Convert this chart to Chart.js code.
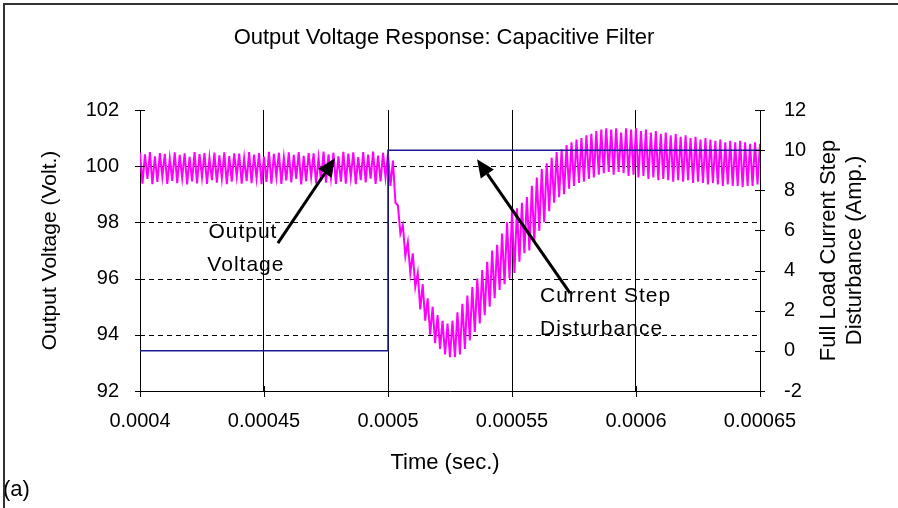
<!DOCTYPE html>
<html>
<head>
<meta charset="utf-8">
<title>Output Voltage Response: Capacitive Filter</title>
<script src="https://cdn.jsdelivr.net/npm/chart.js@4.4.0/dist/chart.umd.min.js"></script>
<style>
  html, body { margin: 0; padding: 0; background: #fff; }
  canvas { display: block; }
</style>
</head>
<body>
<canvas id="grafico" width="898" height="508"></canvas>
<script>
// sampled output voltage, one value every microsecond from 0.0004 s
var sampleStart = 0.0004;
var sampleStep = 0.000001;
var outputVoltage = [
    100.48, 99.38, 100.42, 99.55, 100.50, 99.36, 100.35, 99.44, 100.47, 99.62,
    100.44, 99.37, 100.28, 99.48, 100.49, 99.40, 100.40, 99.58, 100.46, 99.35,
    100.33, 99.46, 100.50, 99.39, 100.43, 99.60, 100.47, 99.37, 100.30, 99.50,
    100.48, 99.41, 100.39, 99.56, 100.49, 99.36, 100.36, 99.45, 100.46, 99.63,
    100.45, 99.38, 100.29, 99.47, 100.50, 99.40, 100.41, 99.57, 100.47, 99.36,
    100.34, 99.44, 100.51, 99.38, 100.44, 99.61, 100.48, 99.37, 100.31, 99.49,
    100.49, 99.42, 100.40, 99.55, 100.50, 99.35, 100.37, 99.46, 100.47, 99.62,
    100.46, 99.39, 100.30, 99.48, 100.52, 99.41, 100.42, 99.58, 100.48, 99.37,
    100.35, 99.45, 100.51, 99.38, 100.45, 99.60, 100.49, 99.36, 100.32, 99.50,
    100.50, 99.42, 100.41, 99.56, 100.52, 99.37, 100.38, 99.46, 100.48, 99.60,
    100.45, 99.30, 100.20, 98.70, 98.60, 97.60, 97.90, 96.80, 97.30, 96.20,
    96.90, 95.70, 96.20, 94.90, 95.80, 94.50, 95.30, 94.00, 95.00, 93.70,
    94.70, 93.50, 94.50, 93.30, 94.40, 93.20, 94.50, 93.20, 94.80, 93.30,
    95.10, 93.50, 95.40, 93.80, 95.70, 94.10, 96.00, 94.40, 96.30, 94.70,
    96.60, 95.00, 97.00, 95.30, 97.20, 95.60, 97.60, 95.80, 98.00, 96.00,
    98.40, 96.20, 98.50, 96.60, 98.70, 96.90, 98.90, 97.00, 99.30, 97.30,
    99.60, 97.70, 99.90, 98.00, 100.10, 98.40, 100.30, 98.70, 100.50, 98.90,
    100.60, 99.00, 100.75, 99.20, 100.85, 99.30, 100.95, 99.40, 101.00, 99.45,
    101.10, 99.55, 101.15, 99.60, 101.25, 99.70, 101.30, 99.75, 101.35, 99.80,
    101.30, 99.70, 101.35, 99.80, 101.20, 99.75, 101.35, 99.65, 101.30, 99.70,
    101.35, 99.60, 101.25, 99.65, 101.30, 99.55, 101.20, 99.60, 101.25, 99.50,
    101.15, 99.55, 101.20, 99.50, 101.10, 99.45, 101.15, 99.50, 101.05, 99.45,
    101.10, 99.50, 101.00, 99.40, 101.05, 99.45, 100.95, 99.40, 101.00, 99.35,
    100.95, 99.40, 100.90, 99.35, 100.95, 99.30, 100.85, 99.35, 100.90, 99.30,
    100.85, 99.30, 100.90, 99.25, 100.85, 99.30, 100.80, 99.30, 100.85, 99.35,
    100.80
];

// load current step (right axis)
var stepTime = [0.0004, 0.0005, 0.0005, 0.00065];
var stepCurrent = [0, 0, 10, 10];

// axis ticks
var timeTicks = [0.0004, 0.00045, 0.0005, 0.00055, 0.0006, 0.00065];
var timeTickLabels = ['0.0004', '0.00045', '0.0005', '0.00055', '0.0006', '0.00065'];
var voltTicks = [92, 94, 96, 98, 100, 102];
var currentTicks = [-2, 0, 2, 4, 6, 8, 10, 12];
var dashedVolts = [94, 96, 98, 100];

// text labels and arrows, in data units (time, volts)
var notes = [
    { text: 'Output', t: 0.0004415, v: 97.65, align: 'center' },
    { text: 'Voltage', t: 0.0004427, v: 96.48, align: 'center' },
    { text: 'Current Step', t: 0.0005613, v: 95.37, align: 'left' },
    { text: 'Disturbance', t: 0.0005613, v: 94.20, align: 'left' }
];
var arrows = [
    { from: [0.0004556, 97.26], to: [0.0004786, 100.28] },
    { from: [0.0005734, 95.48], to: [0.0005359, 100.25] }
];

var FONT = '"Liberation Sans", Arial, sans-serif';

var voltPoints = outputVoltage.map(function (v, i) {
    return { x: sampleStart + i * sampleStep, y: v };
});
var stepPoints = stepTime.map(function (t, i) {
    return { x: t, y: stepCurrent[i] };
});

function arrow(ctx, x1, y1, x2, y2) {
    var ang = Math.atan2(y2 - y1, x2 - x1);
    var len = 18, half = 8;
    var bx = x2 - len * Math.cos(ang), by = y2 - len * Math.sin(ang);
    ctx.beginPath();
    ctx.moveTo(x1, y1);
    ctx.lineTo(bx, by);
    ctx.stroke();
    ctx.beginPath();
    ctx.moveTo(x2, y2);
    ctx.lineTo(bx + half * Math.sin(ang), by - half * Math.cos(ang));
    ctx.lineTo(bx - half * Math.sin(ang), by + half * Math.cos(ang));
    ctx.closePath();
    ctx.fill();
}

var decor = {
    id: 'decor',
    beforeDatasetsDraw: function (chart) {
        var ctx = chart.ctx, a = chart.chartArea, y = chart.scales.y;
        ctx.save();
        ctx.strokeStyle = '#000';
        ctx.lineWidth = 1;
        ctx.setLineDash([5, 4]);
        dashedVolts.forEach(function (v) {
            var py = Math.round(y.getPixelForValue(v)) + 0.5;
            ctx.beginPath();
            ctx.moveTo(a.left, py);
            ctx.lineTo(a.right, py);
            ctx.stroke();
        });
        ctx.restore();
    },
    afterDraw: function (chart) {
        var ctx = chart.ctx, a = chart.chartArea;
        var x = chart.scales.x, y = chart.scales.y, y1 = chart.scales.y1;
        ctx.save();
        ctx.strokeStyle = '#000';
        ctx.fillStyle = '#000';
        ctx.lineWidth = 1;

        // crossing tick marks
        voltTicks.forEach(function (v) {
            var py = Math.round(y.getPixelForValue(v)) + 0.5;
            ctx.beginPath(); ctx.moveTo(a.left - 5, py); ctx.lineTo(a.left + 5, py); ctx.stroke();
        });
        currentTicks.forEach(function (v) {
            var py = Math.round(y1.getPixelForValue(v)) + 0.5;
            ctx.beginPath(); ctx.moveTo(a.right - 5, py); ctx.lineTo(a.right + 5, py); ctx.stroke();
        });
        timeTicks.forEach(function (t) {
            var px = Math.round(x.getPixelForValue(t)) + 0.5;
            ctx.beginPath(); ctx.moveTo(px, a.bottom - 5); ctx.lineTo(px, a.bottom + 6); ctx.stroke();
        });

        // arrows
        ctx.lineWidth = 3;
        arrows.forEach(function (r) {
            arrow(ctx, x.getPixelForValue(r.from[0]), y.getPixelForValue(r.from[1]),
                x.getPixelForValue(r.to[0]), y.getPixelForValue(r.to[1]));
        });

        // annotation texts
        ctx.font = '21px ' + FONT;
        ctx.letterSpacing = '1px';
        ctx.textBaseline = 'middle';
        notes.forEach(function (n) {
            ctx.textAlign = n.align;
            ctx.fillText(n.text, x.getPixelForValue(n.t), y.getPixelForValue(n.v));
        });
        ctx.letterSpacing = '0px';

        // titles
        ctx.textAlign = 'center';
        ctx.font = '22px ' + FONT;
        ctx.fillText('Output Voltage Response: Capacitive Filter', 444, 38);
        ctx.fillText('Time (sec.)', (a.left + a.right) / 2 - 5, 463);

        ctx.font = '21px ' + FONT;
        ctx.save();
        ctx.translate(50, (a.top + a.bottom) / 2);
        ctx.rotate(-Math.PI / 2);
        ctx.fillText('Output Voltage (Volt.)', 0, 0);
        ctx.restore();

        ctx.font = '22px ' + FONT;
        ctx.save();
        ctx.translate(829, (a.top + a.bottom) / 2);
        ctx.rotate(-Math.PI / 2);
        ctx.fillText('Full Load Current Step', 0, 0);
        ctx.fillText('Disturbance (Amp.)', 0, 26);
        ctx.restore();

        ctx.textAlign = 'left';
        ctx.font = '22px ' + FONT;
        ctx.fillText('(a)', 3, 490);

        // outer frame
        ctx.strokeStyle = '#333';
        ctx.lineWidth = 2;
        ctx.beginPath();
        ctx.moveTo(4, 508);
        ctx.lineTo(4, 4);
        ctx.lineTo(898, 4);
        ctx.stroke();
        ctx.restore();
    }
};

var ctx = document.getElementById('grafico').getContext('2d');
var grafico = new Chart(ctx, {
    type: 'line',
    data: {
        datasets: [{
            label: 'Output Voltage',
            data: voltPoints,
            yAxisID: 'y',
            borderColor: '#ff00ff',
            borderWidth: 2,
            pointRadius: 0,
            tension: 0,
            order: 1
        }, {
            label: 'Current Step',
            data: stepPoints,
            yAxisID: 'y1',
            borderColor: '#1c1c96',
            borderWidth: 1.5,
            pointRadius: 0,
            tension: 0,
            order: 0
        }]
    },
    options: {
        responsive: false,
        animation: false,
        layout: { padding: { top: 110, left: 0, right: 0, bottom: 0 } },
        plugins: {
            legend: { display: false },
            title: { display: false },
            tooltip: { enabled: false }
        },
        scales: {
            x: {
                type: 'linear',
                min: 0.0004,
                max: 0.00065,
                afterBuildTicks: function (s) { s.ticks = timeTicks.map(function (v) { return { value: v }; }); },
                afterFit: function (s) { s.height = 117; },
                ticks: {
                    color: '#000',
                    font: { family: FONT, size: 20 },
                    padding: 18,
                    maxRotation: 0,
                    autoSkip: false,
                    callback: function (v, i) { return timeTickLabels[i]; }
                },
                grid: { color: '#000', lineWidth: 1, drawTicks: false },
                border: { color: '#000', width: 1 }
            },
            y: {
                position: 'left',
                min: 92,
                max: 102,
                afterBuildTicks: function (s) { s.ticks = voltTicks.map(function (v) { return { value: v }; }); },
                afterFit: function (s) { s.width = 140; },
                ticks: {
                    color: '#000',
                    font: { family: FONT, size: 20 },
                    padding: 21
                },
                grid: { display: false, drawTicks: false },
                border: { color: '#000', width: 1 }
            },
            y1: {
                position: 'right',
                min: -2,
                max: 12,
                afterBuildTicks: function (s) { s.ticks = currentTicks.map(function (v) { return { value: v }; }); },
                afterFit: function (s) { s.width = 138; },
                ticks: {
                    color: '#000',
                    font: { family: FONT, size: 20 },
                    padding: 24
                },
                grid: { display: false, drawTicks: false },
                border: { color: '#000', width: 1 }
            }
        }
    },
    plugins: [decor]
});
</script>
</body>
</html>
